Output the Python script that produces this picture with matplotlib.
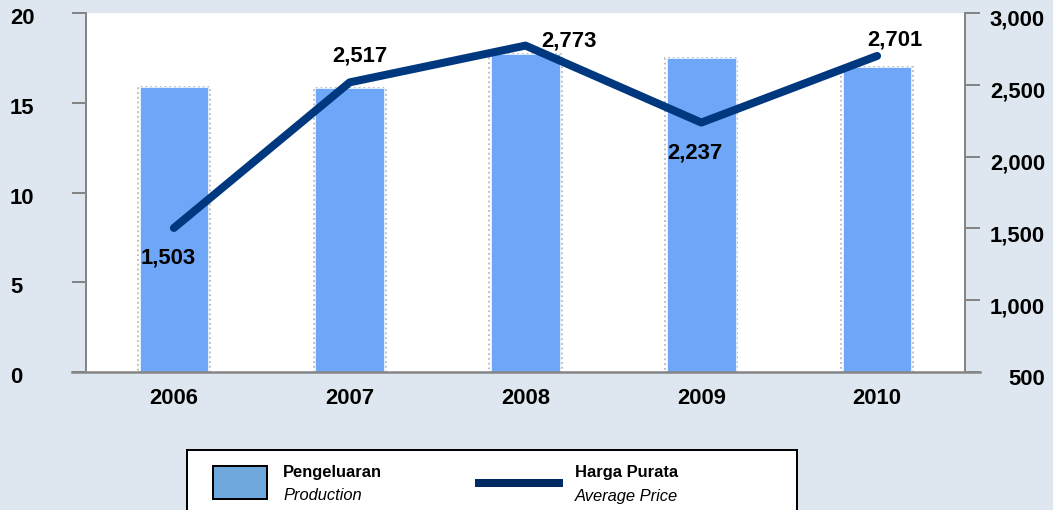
import matplotlib
matplotlib.use("Agg")
import matplotlib.pyplot as plt
import matplotlib.transforms as mtransforms
from matplotlib.patches import Rectangle
from matplotlib.lines import Line2D

years = ["2006", "2007", "2008", "2009", "2010"]
production = [15.9, 15.8, 17.7, 17.5, 17.0]
avg_price = [1503, 2517, 2773, 2237, 2701]
price_labels = ["1,503", "2,517", "2,773", "2,237", "2,701"]
# label offsets (px) from each point
label_offsets = [(-6, -30), (10, 26), (43, 5), (-6, -30), (18, 16)]

plt.rcParams['font.family'] = ['Liberation Sans', 'DejaVu Sans']

W, H = 1053, 510
DPI = 72
fig = plt.figure(figsize=(W / DPI, H / DPI), dpi=DPI)
fig.patch.set_facecolor('#dee6ef')

ax = fig.add_axes([86 / W, 1 - 372 / H, (965 - 86) / W, (372 - 13) / H])
ax.set_facecolor('white')
x = list(range(len(years)))

# bars with a faint dotted shadow edge
ax.bar(x, production, width=0.41, color='none', edgecolor='#b8b8b8',
       linestyle=':', linewidth=1.8, zorder=2)
ax.bar(x, production, width=0.39, color='#6ea7f7', edgecolor='#eef4ff',
       linewidth=0.8, zorder=3)
ax.set_xlim(-0.5, 4.5)
ax.set_ylim(0, 20)
ax.set_yticks([0, 5, 10, 15, 20])
ax.set_xticks(x)
ax.set_xticklabels(years)

ax2 = ax.twinx()
ax2.plot(x, avg_price, color='#00387f', linewidth=8, solid_capstyle='round',
         solid_joinstyle='round', zorder=5)
ax2.set_ylim(500, 3000)
ax2.set_yticks([500, 1000, 1500, 2000, 2500, 3000])
ax2.set_yticklabels(['500', '1,000', '1,500', '2,000', '2,500', '3,000'])
for xi, v, lab, off in zip(x, avg_price, price_labels, label_offsets):
    ax2.annotate(lab, (xi, v), xytext=off, textcoords='offset points',
                 ha='center', va='center', fontsize=22, fontweight='bold',
                 color='black', zorder=6)

for a in (ax, ax2):
    for s in ('top', 'bottom', 'left', 'right'):
        a.spines[s].set_visible(False)
ax.spines['left'].set_visible(True)
ax.spines['left'].set_color('#858585')
ax.spines['left'].set_linewidth(2)
ax2.spines['right'].set_visible(True)
ax2.spines['right'].set_color('#858585')
ax2.spines['right'].set_linewidth(2)

ax.tick_params(axis='y', length=14, width=2, color='#858585', pad=62,
               labelsize=22)
shift_l = mtransforms.ScaledTranslation(0, -3 / DPI, fig.dpi_scale_trans)
for t in ax.get_yticklabels():
    t.set_horizontalalignment('left')
    t.set_fontweight('bold')
    t.set_transform(t.get_transform() + shift_l)
ax2.tick_params(axis='y', length=15, width=2, color='#858585', pad=65,
                labelsize=22)
shift_r = mtransforms.ScaledTranslation(0, -5 / DPI, fig.dpi_scale_trans)
for t in ax2.get_yticklabels():
    t.set_horizontalalignment('right')
    t.set_fontweight('bold')
    t.set_transform(t.get_transform() + shift_r)
ax.tick_params(axis='x', length=0, pad=16, labelsize=22)
for t in ax.get_xticklabels():
    t.set_fontweight('bold')

# bottom axis line running under both tick columns
fig.add_artist(Line2D([72 / W, 980 / W], [1 - 372 / H, 1 - 372 / H],
                      color='#858585', linewidth=2.5))

# legend box
fig.add_artist(Rectangle((187 / W, -0.05), (797 - 187) / W, (1 - 450 / H) + 0.05,
                         facecolor='white', edgecolor='black', linewidth=2))
fig.add_artist(Rectangle((213 / W, 1 - 499 / H), (267 - 213) / W, (499 - 466) / H,
                         facecolor='#6fa8dc', edgecolor='black', linewidth=2))
fig.add_artist(Line2D([479 / W, 559 / W], [1 - 483 / H, 1 - 483 / H],
                      color='#002a61', linewidth=8))
fig.text(283 / W, 1 - 472 / H, 'Pengeluaran', fontsize=16.5, fontweight='bold',
         va='center', ha='left')
fig.text(283 / W, 1 - 496 / H, 'Production', fontsize=16.5, fontstyle='italic',
         va='center', ha='left')
fig.text(575 / W, 1 - 472 / H, 'Harga Purata', fontsize=16.5, fontweight='bold',
         va='center', ha='left')
fig.text(575 / W, 1 - 496 / H, 'Average Price', fontsize=16.5, fontstyle='italic',
         va='center', ha='left')

fig.savefig('out.png', dpi=DPI, facecolor=fig.get_facecolor())
